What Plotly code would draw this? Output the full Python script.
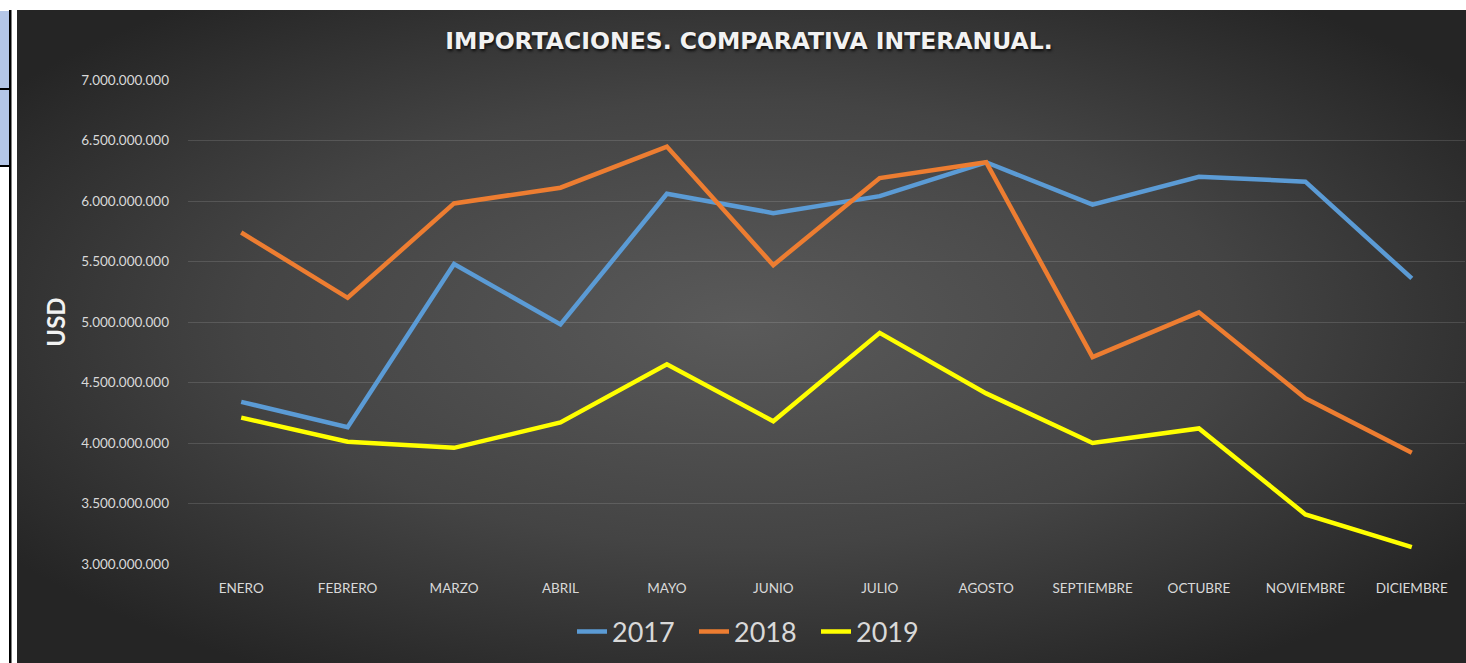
import plotly.graph_objects as go
import urllib.parse

meses = ["ENERO", "FEBRERO", "MARZO", "ABRIL", "MAYO", "JUNIO", "JULIO",
         "AGOSTO", "SEPTIEMBRE", "OCTUBRE", "NOVIEMBRE", "DICIEMBRE"]
imp_2017 = [4.34e9, 4.13e9, 5.48e9, 4.98e9, 6.06e9, 5.90e9, 6.04e9,
            6.32e9, 5.97e9, 6.20e9, 6.16e9, 5.36e9]
imp_2018 = [5.74e9, 5.20e9, 5.98e9, 6.11e9, 6.45e9, 5.47e9, 6.19e9,
            6.32e9, 4.71e9, 5.08e9, 4.37e9, 3.92e9]
imp_2019 = [4.21e9, 4.01e9, 3.96e9, 4.17e9, 4.65e9, 4.18e9, 4.91e9,
            4.41e9, 4.00e9, 4.12e9, 3.41e9, 3.14e9]
series = [("2017", imp_2017, "#5b9bd5"),
          ("2018", imp_2018, "#ed7d31"),
          ("2019", imp_2019, "#ffff00")]
y_ticks = [3e9, 3.5e9, 4e9, 4.5e9, 5e9, 5.5e9, 6e9, 6.5e9, 7e9]

W, H = 1466, 663
ML, MR, MT, MB = 188, 1, 80, 99
PW, PH = W - ML - MR, H - MT - MB

def px(x):
    return (x - ML) / PW

def py(y):
    return 1 - (y - MT) / PH

fig = go.Figure()
for name, vals, col in series:
    fig.add_trace(go.Scatter(x=meses, y=vals, name=name, mode="lines",
                             line=dict(color=col, width=4.5)))

svg = ('<svg xmlns="http://www.w3.org/2000/svg" width="1449" height="653">'
       '<defs><radialGradient id="g" cx="50%" cy="48%" r="62%">'
       '<stop offset="0" stop-color="#5a5a5a"/>'
       '<stop offset="0.55" stop-color="#444444"/>'
       '<stop offset="1" stop-color="#252525"/></radialGradient></defs>'
       '<rect width="1449" height="653" fill="url(#g)"/></svg>')
src = "data:image/svg+xml;charset=utf-8," + urllib.parse.quote(svg)

fig.add_layout_image(dict(source=src, xref="paper", yref="paper",
                          x=px(17), y=py(10), sizex=px(W) - px(17),
                          sizey=py(10) - py(H), xanchor="left", yanchor="top",
                          sizing="stretch", layer="below"))

shapes = [
    dict(type="rect", xref="paper", yref="paper", x0=px(0), x1=px(9),
         y0=py(88), y1=py(11), fillcolor="#b4c6e7", line=dict(width=0), layer="below"),
    dict(type="rect", xref="paper", yref="paper", x0=px(0), x1=px(9),
         y0=py(165), y1=py(90), fillcolor="#b4c6e7", line=dict(width=0), layer="below"),
    dict(type="rect", xref="paper", yref="paper", x0=px(9), x1=px(11.5),
         y0=py(H), y1=py(10), fillcolor="#000000", line=dict(width=0), layer="below"),
    dict(type="rect", xref="paper", yref="paper", x0=px(0), x1=px(9),
         y0=py(90), y1=py(88), fillcolor="#000000", line=dict(width=0), layer="below"),
    dict(type="rect", xref="paper", yref="paper", x0=px(0), x1=px(9),
         y0=py(167), y1=py(165), fillcolor="#000000", line=dict(width=0), layer="below"),
]

fig.update_layout(
    width=W, height=H,
    margin=dict(l=ML, r=MR, t=MT, b=MB),
    paper_bgcolor="#ffffff", plot_bgcolor="rgba(0,0,0,0)",
    separators=",.",
    shapes=shapes,
    title=dict(text="<b>IMPORTACIONES. COMPARATIVA INTERANUAL.</b>",
               xref="container", x=749 / W, xanchor="center",
               yref="container", y=1 - 41 / H, yanchor="middle",
               font=dict(family="DejaVu Sans", size=23.5, color="#f2f2f2",
                         shadow="1px 2px 3px rgba(0,0,0,0.8)")),
    xaxis=dict(range=[-0.5, 11.5], showgrid=False, showline=False, zeroline=False,
               ticks="", tickfont=dict(family="Lato", size=13.5, color="#d9d9d9"),
               ticklabelstandoff=14),
    yaxis=dict(range=[3e9, 7e9], tickvals=y_ticks, tickformat=",d",
               showgrid=True, gridcolor="rgba(255,255,255,0.13)", gridwidth=1,
               zeroline=False, showline=False, ticks="",
               tickfont=dict(family="Lato", size=13.5, color="#d9d9d9"),
               ticklabelstandoff=18,
               title=dict(text="<b>USD</b>", standoff=8,
                          font=dict(family="Lato", size=24, color="#f2f2f2"))),
    legend=dict(orientation="h", x=px(572), xanchor="left", y=py(632),
                yanchor="middle", font=dict(family="Lato", size=27, color="#d9d9d9"),
                bgcolor="rgba(0,0,0,0)", itemwidth=30,
                entrywidth=77, entrywidthmode="pixels"),
    showlegend=True,
)

fig.write_html("out.html", config={"displayModeBar": False},
               post_script="document.body.style.margin='0';document.body.style.overflow='hidden';")
